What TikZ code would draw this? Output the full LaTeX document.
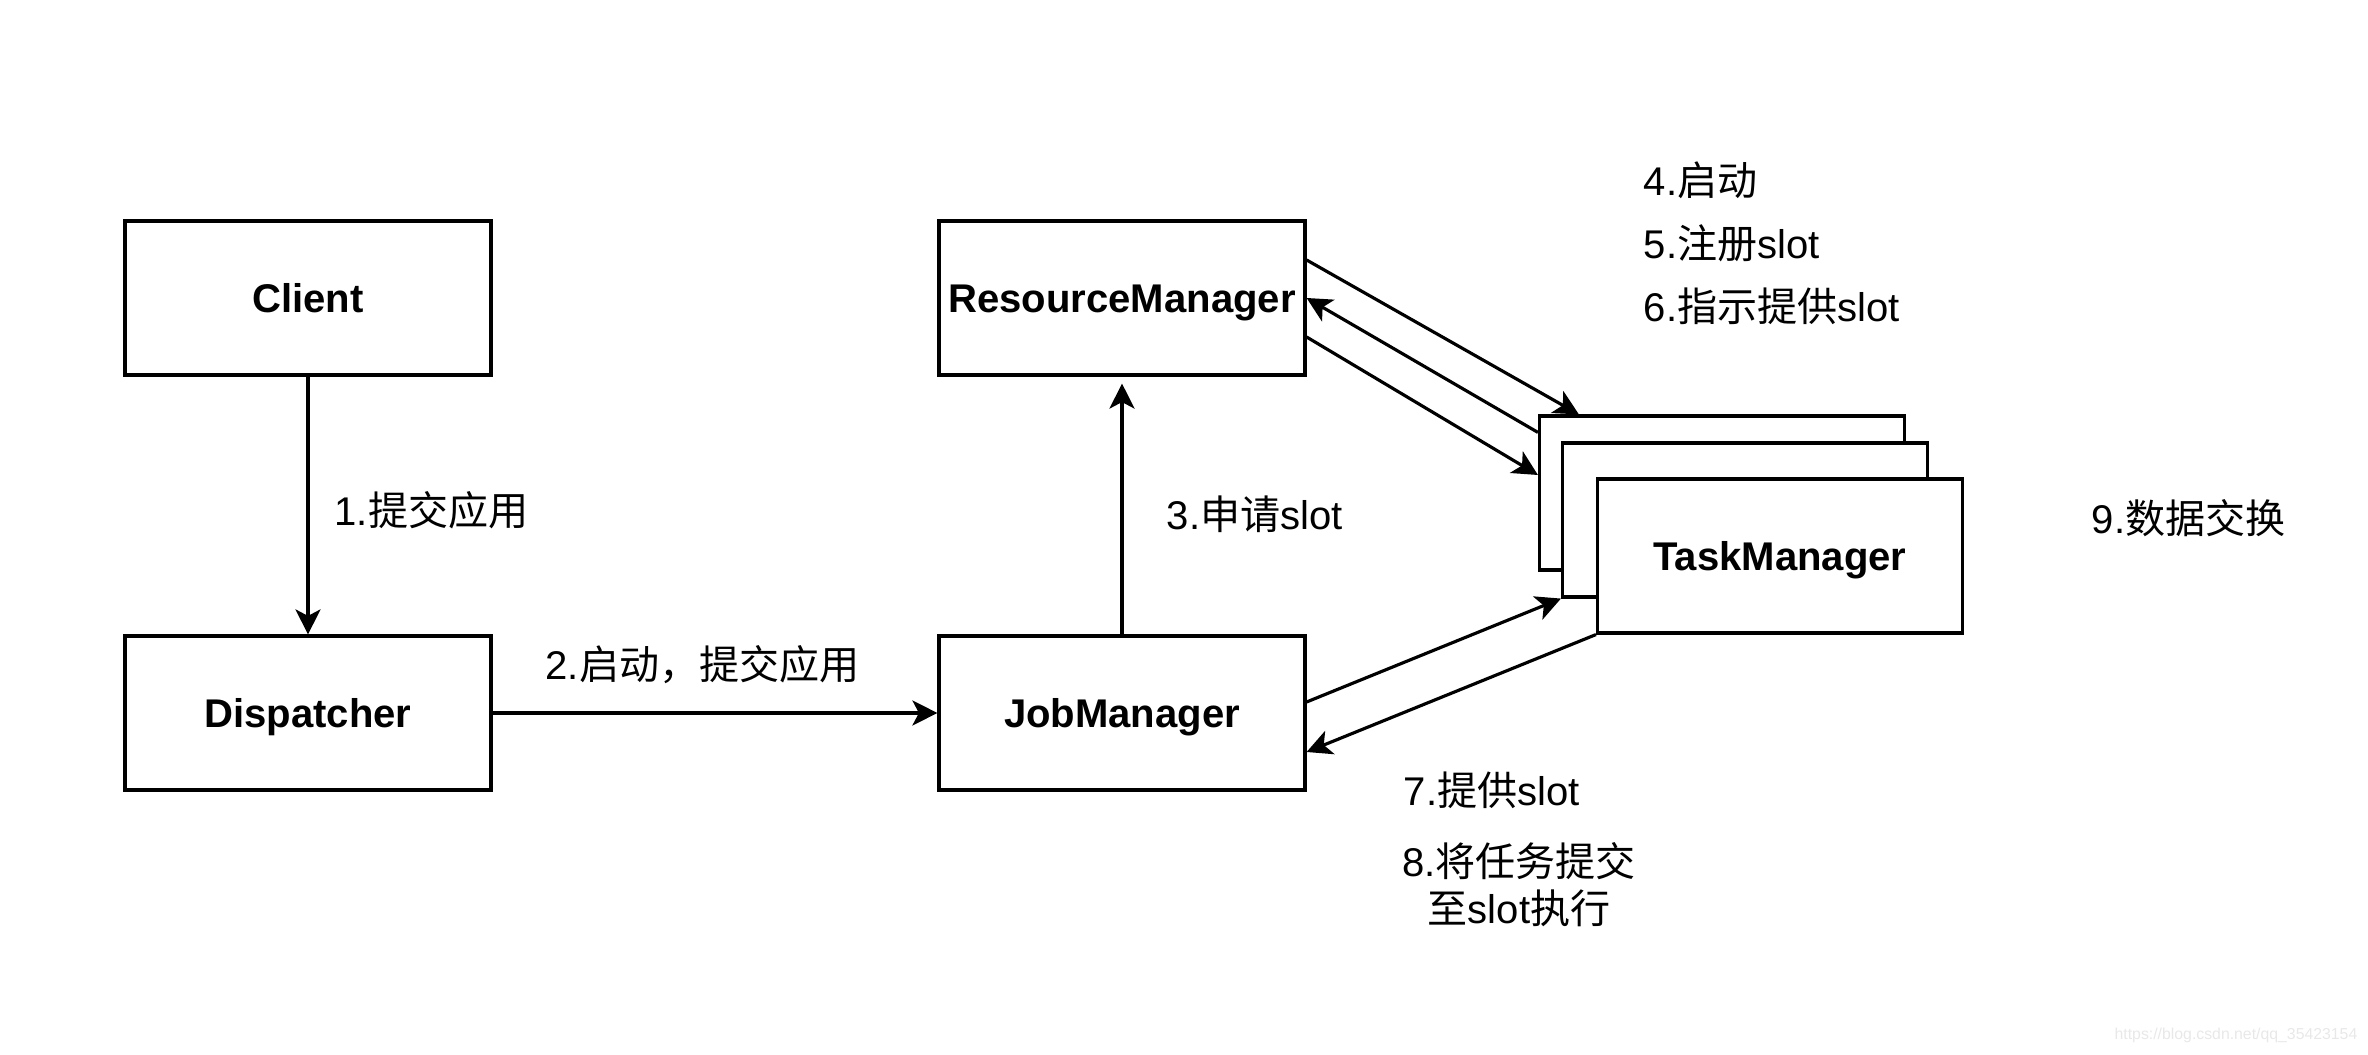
\documentclass[tikz,border=0pt]{standalone}
\usepackage{fontspec}
\setmainfont{Liberation Sans}
\newfontfamily\zhfont{Noto Sans CJK SC}
\newcommand{\zh}[1]{{\zhfont #1}}
\usetikzlibrary{arrows.meta,positioning}

\tikzset{
	box/.style={draw, line width=0.9pt, fill=white, minimum width=3.66cm, minimum height=1.54cm, inner sep=0pt, text height=0.286cm, text depth=0pt, font=\fontsize{11.4}{13.7}\selectfont\bfseries},
	lbl/.style={inner sep=0pt, font=\fontsize{11.4}{13.4}\selectfont},
	link/.style={line width=0.9pt, -{Stealth[length=2.5mm, width=2.5mm, inset=0.65mm]}},
}

\begin{document}
\begin{tikzpicture}
			\useasboundingbox (0,0) rectangle (23.68,10.54);
			% boxes
			\node[box] (client) at (3.08,7.56) {Client};
			\node[box] (dispatcher) at (3.08,3.41) {Dispatcher};
			\node[box] (rm) at (11.22,7.56) {ResourceManager};
			\node[box] (jm) at (11.22,3.41) {JobManager};
			\node[box, minimum width=3.65cm] (tm3) at (17.22,5.61) {};
			\node[box, minimum width=3.65cm] (tm2) at (17.45,5.34) {};
			\node[box, minimum width=3.65cm] (tm1) at (17.80,4.98) {TaskManager};
			% arrows
			\draw[link] (client) -- (dispatcher);
			\draw[link] (dispatcher) -- (jm);
			\draw[link, shorten >=0.7mm] (jm) -- (rm);
			\draw[link] ([yshift=3.8mm]rm.east) -- ([xshift=4.1mm]tm3.north west);
			\draw[link] ([yshift=-1.8mm]tm3.north west) -- (rm.east);
			\draw[link] ([yshift=-3.9mm]rm.east) -- ([yshift=1.8mm]tm3.west);
			\draw[link] ([yshift=1.1mm]jm.east) -- (tm2.south west);
			\draw[link] (tm1.south west) -- ([yshift=-3.9mm]jm.east);
			% labels
			\node[lbl, anchor=west] (l1) at (3.34,5.44) {1.\zh{提交应用}};
			\node[lbl, anchor=west] (l2) at (5.45,3.89) {2.\zh{启动，提交应用}};
			\node[lbl, anchor=west] (l3) at (11.66,5.40) {3.\zh{申请}slot};
			\node[lbl, anchor=west] (l4) at (16.43,8.74) {4.\zh{启动}};
			\node[lbl, anchor=west] (l5) at (16.43,8.11) {5.\zh{注册}slot};
			\node[lbl, anchor=west] (l6) at (16.43,7.48) {6.\zh{指示提供}slot};
			\node[lbl, anchor=west] (l7) at (14.03,2.64) {7.\zh{提供}slot};
			\node[lbl, align=center] (l8) at (15.19,1.695) {8.\zh{将任务提交}\\\zh{至}slot\zh{执行}};
			\node[lbl, anchor=west] (l9) at (20.91,5.36) {9.\zh{数据交换}};
			\node[inner sep=0pt, anchor=east, text=black!9, font=\fontsize{4.5}{5}\selectfont] (mark) at (23.58,0.19) {https://blog.csdn.net/qq\_35423154};
		\end{tikzpicture}
\end{document}
